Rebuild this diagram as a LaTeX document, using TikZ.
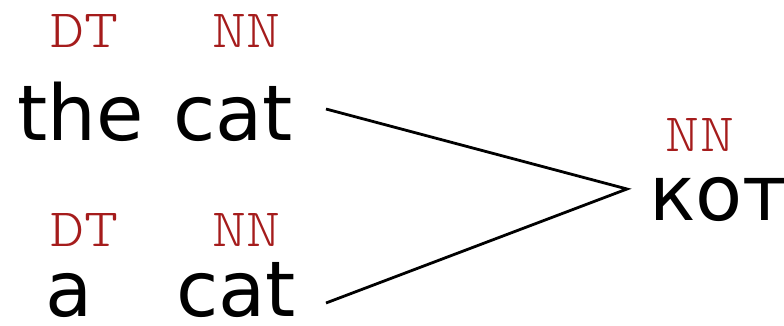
\documentclass[tikz,border=0pt]{standalone}
\usepackage{fontspec}
\setmainfont{DejaVu Sans}
\newfontfamily\tagfont[FakeStretch=1.2]{Latin Modern Mono Light}
\definecolor{tagred}{RGB}{165,28,28}
\begin{document}
\begin{tikzpicture}[x=1pt,y=1pt,
  word/.style={anchor=base west,inner sep=0pt,text depth=0pt,font=\fontsize{77}{77}\selectfont},
  postag/.style={anchor=base,inner sep=0pt,text depth=0pt,text=tagred,font=\tagfont\fontsize{54}{54}\selectfont},
  link/.style={line width=2.8pt,black}]
\useasboundingbox (0,0) rectangle (784,325);
% words (y = 325 - pixel row)
\node[word] (the) at (17,185) {the};
\node[word] (cat1) at (173,185) {cat};
\node[word] (a) at (45,9) {a};
\node[word] (cat2) at (176,9) {cat};
\node[word] (kot) at (649,105) {кот};
% tags
\node[postag] (dt1) at (84.5,278) {DT};
\node[postag] (nn1) at (246.5,278) {NN};
\node[postag] (dt2) at (84.5,79) {DT};
\node[postag] (nn2) at (246.5,79) {NN};
\node[postag] (nn3) at (700,174) {NN};
% connector points
\coordinate (s1) at (326,216);
\coordinate (s2) at (326,22);
\coordinate (apex) at (627,136);
\draw[link] (s1) -- (apex) -- (s2);
\end{tikzpicture}
\end{document}
